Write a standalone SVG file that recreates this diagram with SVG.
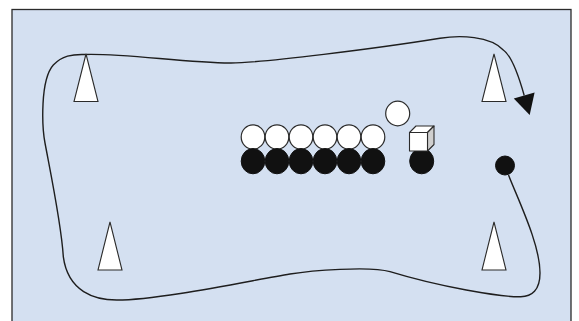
<svg xmlns="http://www.w3.org/2000/svg" width="579" height="321" viewBox="0 0 579 321">
  <style>
    .field { fill: #d4e0f1; stroke: #2b2b2b; stroke-width: 1.3; }
    .cone { fill: #ffffff; stroke: #2b2b2b; stroke-width: 1.1; stroke-linejoin: miter; }
    .ball-w { fill: #ffffff; stroke: #2b2b2b; stroke-width: 1.2; }
    .ball-b { fill: #111111; stroke: #111111; stroke-width: 1; }
    .route { fill: none; stroke: #1e1e1e; stroke-width: 1.4; }
    .face { stroke: #2b2b2b; stroke-width: 1.1; stroke-linejoin: round; }
  </style>
  <defs>
    <marker id="arrow" markerUnits="userSpaceOnUse" markerWidth="24" markerHeight="24" viewBox="-1 -11 22 22" refX="0" refY="0" orient="auto">
      <path d="M0,-9.9 L18.5,0 L0,9.9 Z" fill="#111111"/>
    </marker>
  </defs>

  <!-- playing area -->
  <rect class="field" x="12" y="9.5" width="559" height="320"/>

  <!-- running route -->
  <g id="connectors">
    <path class="route" marker-end="url(#arrow)" d="M508.5,175
      C520,204 540,245 540,273
      C540,290 532,297 520,296.7
      C500,297 440,287 390,271.7
      C370,265.6 310,270.7 290,274
      C250,280.6 160,300 116.7,300
      C95,300 68,292 63.3,256.7
      C61.5,225 50,170 45,143
      C42,127 40,80 53.3,65
      C62,56 72,54 85,54.5
      C120,53 185,62.5 230,63
      C260,63.3 380,48 440,38.3
      C460,35 490,36 503.3,50
      C512,56 519.2,77.7 524.2,95.5"/>
  </g>

  <!-- cones -->
  <g id="cone-top-left"><polygon class="cone" points="86,54 74,101.5 98,101.5"/></g>
  <g id="cone-top-right"><polygon class="cone" points="494,54 482,101.5 506,101.5"/></g>
  <g id="cone-bottom-left"><polygon class="cone" points="110,222 98,270 122,270"/></g>
  <g id="cone-bottom-right"><polygon class="cone" points="494,222 482,270 506,270"/></g>

  <!-- white balls row -->
  <g id="white-balls">
    <ellipse class="ball-w" cx="253" cy="137" rx="11.8" ry="12.2"/>
    <ellipse class="ball-w" cx="277" cy="137" rx="11.8" ry="12.2"/>
    <ellipse class="ball-w" cx="301" cy="137" rx="11.8" ry="12.2"/>
    <ellipse class="ball-w" cx="325" cy="137" rx="11.8" ry="12.2"/>
    <ellipse class="ball-w" cx="349" cy="137" rx="11.8" ry="12.2"/>
    <ellipse class="ball-w" cx="373" cy="137" rx="11.8" ry="12.2"/>
  </g>

  <!-- black balls row -->
  <g id="black-balls">
    <ellipse class="ball-b" cx="253" cy="161.2" rx="11.8" ry="12.6"/>
    <ellipse class="ball-b" cx="277" cy="161.2" rx="11.8" ry="12.6"/>
    <ellipse class="ball-b" cx="301" cy="161.2" rx="11.8" ry="12.6"/>
    <ellipse class="ball-b" cx="325" cy="161.2" rx="11.8" ry="12.6"/>
    <ellipse class="ball-b" cx="349" cy="161.2" rx="11.8" ry="12.6"/>
    <ellipse class="ball-b" cx="373" cy="161.2" rx="11.8" ry="12.6"/>
  </g>

  <!-- single white ball -->
  <g id="white-ball-single">
    <ellipse class="ball-w" cx="397.7" cy="113.5" rx="12" ry="12.3"/>
  </g>

  <!-- player with box -->
  <g id="player-box">
    <ellipse class="ball-b" cx="421.7" cy="161.2" rx="12" ry="12.6"/>
    <polygon class="face" fill="#ffffff" points="409.5,132.5 416,126 434,126 427.5,132.5"/>
    <polygon class="face" fill="#cfcfcf" points="427.5,132.5 434,126 434,144.5 427.5,151"/>
    <rect class="face" fill="#ffffff" x="409.5" y="132.5" width="18" height="18.5"/>
  </g>

  <!-- runner start -->
  <g id="runner">
    <circle class="ball-b" cx="505" cy="165.5" r="9.5"/>
  </g>
</svg>
